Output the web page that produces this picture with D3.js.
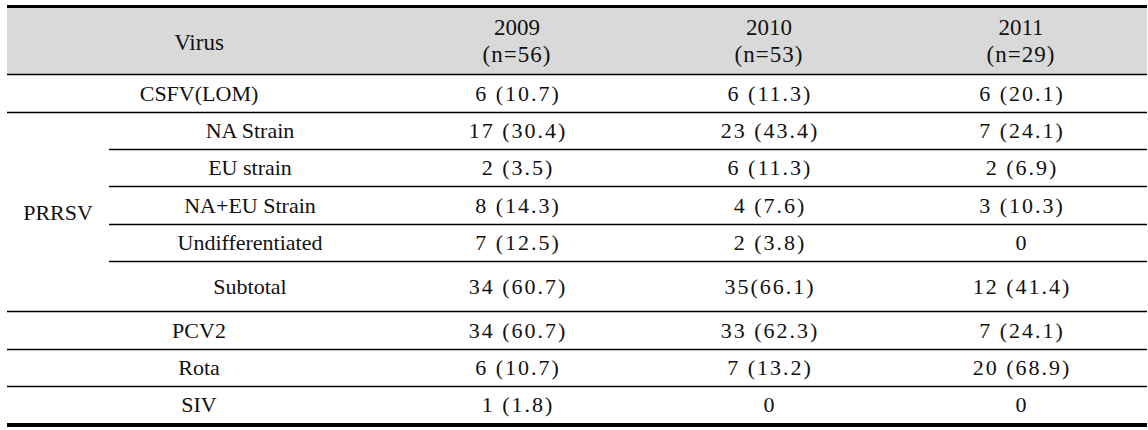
<!DOCTYPE html>
<html>
<head>
<meta charset="utf-8">
<script src="https://cdn.jsdelivr.net/npm/d3@7"></script>
<style>
  html, body { margin: 0; padding: 0; background: #fff; }
  svg { display: block; }
  text { font-family: "Liberation Serif", "Times New Roman", serif; fill: #111; }
</style>
</head>
<body>
<svg id="chart" width="1148" height="430"></svg>
<script>
// ---- data ----
const headerLabel = "Virus";
const years = ["2009", "2010", "2011"];
const sampleSizes = [56, 53, 29];
const groupLabel = "PRRSV";
const rowLabels = ["CSFV(LOM)", "NA Strain", "EU strain", "NA+EU Strain", "Undifferentiated", "Subtotal", "PCV2", "Rota", "SIV"];
const rowGroup = [null, "PRRSV", "PRRSV", "PRRSV", "PRRSV", "PRRSV", null, null, null];
const counts2009 = [6, 17, 2, 8, 7, 34, 34, 6, 1];
const pct2009 = [10.7, 30.4, 3.5, 14.3, 12.5, 60.7, 60.7, 10.7, 1.8];
const counts2010 = [6, 23, 6, 4, 2, 35, 33, 7, 0];
const pct2010 = [11.3, 43.4, 11.3, 7.6, 3.8, 66.1, 62.3, 13.2, null];
const counts2011 = [6, 7, 2, 3, 0, 12, 7, 20, 0];
const pct2011 = [20.1, 24.1, 6.9, 10.3, null, 41.4, 24.1, 68.9, null];

// ---- layout ----
const svg = d3.select("#chart");
const leftX = 7, rightX = 1147, labelColRight = 391, subColLeft = 109;
const topY = 8;
const headerH = 66;
const rowH = [38, 37, 37, 38, 37, 50, 38, 37, 37];
const edges = [0, headerH, ...Array.from(d3.cumsum(rowH), v => v + headerH)];
const totalH = edges[edges.length - 1];
const y = d3.scaleLinear().domain([0, totalH]).range([topY, topY + totalH]);
const x = d3.scaleBand().domain(years).range([labelColRight, rightX]);

const series = [
  { year: "2009", counts: counts2009, pct: pct2009 },
  { year: "2010", counts: counts2010, pct: pct2010 },
  { year: "2011", counts: counts2011, pct: pct2011 }
];

// header background
svg.append("rect")
  .attr("x", leftX).attr("y", y(0))
  .attr("width", rightX - leftX).attr("height", y(headerH) - y(0))
  .attr("fill", "#d9d9d9");

// top and bottom thick rules
svg.append("rect").attr("x", leftX).attr("y", y(0) - 3).attr("width", rightX - leftX).attr("height", 3).attr("fill", "#000");
svg.append("rect").attr("x", leftX).attr("y", y(totalH)).attr("width", rightX - leftX).attr("height", 4).attr("fill", "#000");

// inner rules
const ruleG = svg.append("g").attr("stroke", "#000").attr("stroke-width", 1.3);
edges.slice(1, -1).forEach((e, i) => {
  const rowAbove = i - 1;
  const rowBelow = i;
  const inGroup = rowAbove >= 0 && rowBelow < rowLabels.length &&
    rowGroup[rowAbove] && rowGroup[rowAbove] === rowGroup[rowBelow];
  ruleG.append("line")
    .attr("x1", inGroup ? subColLeft : leftX).attr("x2", rightX)
    .attr("y1", Math.round(y(e)) + 0.5).attr("y2", Math.round(y(e)) + 0.5);
});

// header text
svg.append("text")
  .attr("x", (leftX + labelColRight) / 2).attr("y", y(headerH / 2) + 9)
  .attr("text-anchor", "middle").attr("font-size", 23).text(headerLabel);
years.forEach((yr, i) => {
  const cx = x(yr) + x.bandwidth() / 2;
  svg.append("text").attr("x", cx).attr("y", y(0) + 27)
    .attr("text-anchor", "middle").attr("font-size", 23).text(yr);
  svg.append("text").attr("x", cx).attr("y", y(0) + 54)
    .attr("text-anchor", "middle").attr("font-size", 23).attr("letter-spacing", 1)
    .text("(n=" + sampleSizes[i] + ")");
});

// row labels
rowLabels.forEach((lab, i) => {
  const cy = y((edges[i + 1] + edges[i + 2]) / 2);
  const cx = rowGroup[i] ? (subColLeft + labelColRight) / 2 : (leftX + labelColRight) / 2;
  svg.append("text").attr("x", cx).attr("y", cy + 7.5)
    .attr("text-anchor", "middle").attr("font-size", 22).text(lab);
});

// group label
const gIdx = rowGroup.map((g, i) => g === groupLabel ? i : -1).filter(i => i >= 0);
const gTop = edges[gIdx[0] + 1], gBot = edges[gIdx[gIdx.length - 1] + 2];
svg.append("text").attr("x", 58).attr("y", y((gTop + gBot) / 2) + 8)
  .attr("text-anchor", "middle").attr("font-size", 22).text(groupLabel);

// values
const fmt = (c, p, year, i) => {
  if (p == null) return String(c);
  const sep = (year === "2010" && rowLabels[i] === "Subtotal") ? "" : " ";
  return c + sep + "(" + p.toFixed(1) + ")";
};
series.forEach(s => {
  const cx = x(s.year) + x.bandwidth() / 2;
  svg.append("g").selectAll("text").data(s.counts).join("text")
    .attr("x", cx + 1)
    .attr("y", (d, i) => y((edges[i + 1] + edges[i + 2]) / 2) + 7.5)
    .attr("text-anchor", "middle").attr("font-size", 22).attr("letter-spacing", 2)
    .style("white-space", "pre")
    .text((d, i) => fmt(d, s.pct[i], s.year, i));
});
</script>
</body>
</html>
